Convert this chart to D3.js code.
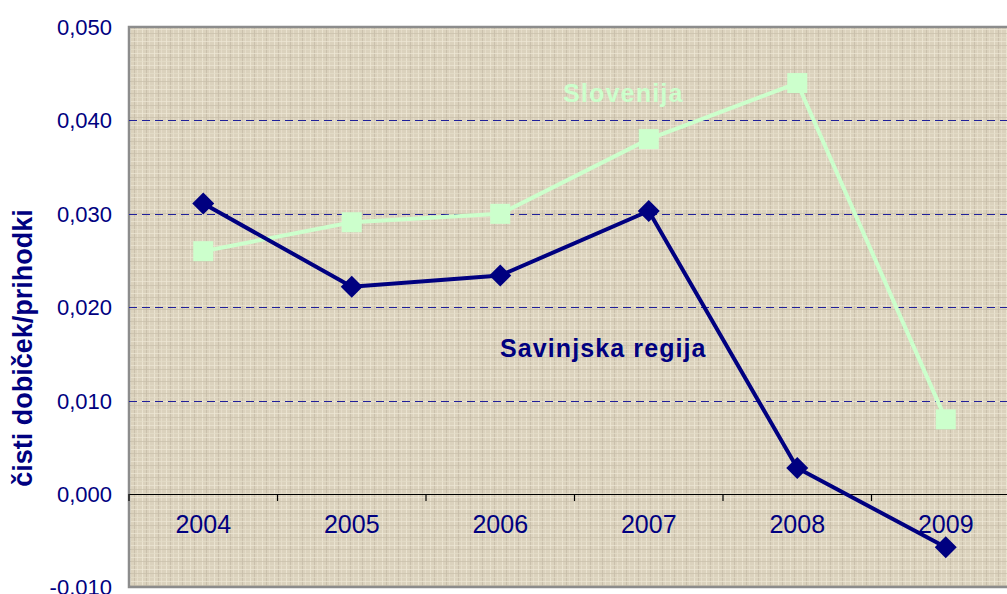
<!DOCTYPE html>
<html>
<head>
<meta charset="utf-8">
<script src="https://cdn.jsdelivr.net/npm/d3@7"></script>
<style>
  body { margin: 0; background: #fff; }
  svg { display: block; font-family: "Liberation Sans", Arial, sans-serif; }
</style>
</head>
<body>
<div id="chart"></div>
<script>
// chart values
const years = ["2004", "2005", "2006", "2007", "2008", "2009"];
const savinjska = [0.0311, 0.0222, 0.0234, 0.0303, 0.0028, -0.0057];
const slovenija = [0.0260, 0.0291, 0.0300, 0.0380, 0.0440, 0.0080];
const yTicks = [-0.010, 0.000, 0.010, 0.020, 0.030, 0.040, 0.050];

const W = 1007, H = 594;
const margin = { top: 27, right: -13, bottom: 7, left: 129 };
const width = W - margin.left - margin.right,
      height = H - margin.top - margin.bottom;

const svg = d3.select("#chart").append("svg")
    .attr("width", W)
    .attr("height", H);

// woven canvas texture for the plot area
const defs = svg.append("defs");
const pat = defs.append("pattern")
    .attr("id", "canvas")
    .attr("patternUnits", "userSpaceOnUse")
    .attr("width", 12).attr("height", 12);
pat.append("rect").attr("width", 12).attr("height", 12).attr("fill", "#dbd2bd");
[[1, "#eee7d5"], [5, "#c6bca8"], [8, "#e7dfcc"]].forEach(function(s) {
    pat.append("rect").attr("x", s[0]).attr("y", 0).attr("width", 1).attr("height", 12)
        .attr("fill", s[1]).attr("opacity", 0.8);
});
[[2, "#efe8d6"], [6, "#c9bfab"], [10, "#e5ddca"]].forEach(function(s) {
    pat.append("rect").attr("x", 0).attr("y", s[0]).attr("width", 12).attr("height", 1)
        .attr("fill", s[1]).attr("opacity", 0.7);
});

const g = svg.append("g")
    .attr("transform", "translate(" + margin.left + "," + margin.top + ")");

const x = d3.scaleBand().domain(years).range([0, width]);
const y = d3.scaleLinear().domain([-0.010, 0.050]).range([height + 0.5, 0]);

g.append("rect")
    .attr("width", width).attr("height", height)
    .attr("fill", "url(#canvas)")
    .attr("stroke", "#8c8c8c").attr("stroke-width", 2.5);

// dashed gridlines
g.selectAll(".grid")
    .data(yTicks.filter(d => d > 0 && d < 0.05))
  .enter().append("line")
    .attr("x1", 0).attr("x2", width)
    .attr("y1", d => Math.round(y(d)) + 0.5)
    .attr("y2", d => Math.round(y(d)) + 0.5)
    .attr("stroke", "#20209a")
    .attr("stroke-width", 1)
    .attr("shape-rendering", "crispEdges")
    .attr("stroke-dasharray", "8,5");

// y axis labels
const fmt = d => d3.format(".3f")(d).replace(".", ",").replace("−", "-");
g.selectAll(".ylab")
    .data(yTicks)
  .enter().append("text")
    .attr("x", -17)
    .attr("y", d => y(d))
    .attr("dy", "0.36em")
    .attr("text-anchor", "end")
    .attr("fill", "#000080")
    .style("font-size", "22px")
    .text(fmt);

// zero axis with category ticks
const xAxis = g.append("g")
    .attr("transform", "translate(0," + Math.round(y(0)) + ")")
    .call(d3.axisBottom(x).tickSize(0).tickFormat(""));
xAxis.select(".domain").attr("stroke", "#000").attr("stroke-width", 1.2);
xAxis.selectAll(".sep")
    .data(d3.range(years.length + 1))
  .enter().append("line")
    .attr("x1", i => i * x.step()).attr("x2", i => i * x.step())
    .attr("y1", 0).attr("y2", 7)
    .attr("stroke", "#000").attr("stroke-width", 1.2);

// year labels
g.selectAll(".xlab")
    .data(years)
  .enter().append("text")
    .attr("x", d => x(d) + x.bandwidth() / 2)
    .attr("y", y(0) + 39)
    .attr("text-anchor", "middle")
    .attr("fill", "#000080")
    .style("font-size", "25px")
    .text(d => d);

const cx = (d, i) => x(years[i]) + x.bandwidth() / 2;
const line = d3.line().x(cx).y(d => y(d));

// Slovenija series
g.append("path")
    .datum(slovenija)
    .attr("fill", "none")
    .attr("stroke", "#ccffcc")
    .attr("stroke-width", 4)
    .attr("d", line);
g.selectAll(".sq")
    .data(slovenija)
  .enter().append("rect")
    .attr("x", (d, i) => cx(d, i) - 10)
    .attr("y", d => y(d) - 10)
    .attr("width", 20).attr("height", 20)
    .attr("fill", "#ccffcc");

// Savinjska regija series
g.append("path")
    .datum(savinjska)
    .attr("fill", "none")
    .attr("stroke", "#000080")
    .attr("stroke-width", 4)
    .attr("d", line);
g.selectAll(".dm")
    .data(savinjska)
  .enter().append("path")
    .attr("transform", (d, i) => "translate(" + cx(d, i) + "," + y(d) + ")")
    .attr("d", "M0,-11L11,0L0,11L-11,0Z")
    .attr("fill", "#000080");

// series labels
g.append("text")
    .attr("x", 563 - margin.left)
    .attr("y", 102 - margin.top)
    .attr("fill", "#ccffcc")
    .style("font-size", "25px")
    .style("font-weight", "bold")
    .style("letter-spacing", "1.2px")
    .text("Slovenija");
g.append("text")
    .attr("x", 500 - margin.left)
    .attr("y", 357 - margin.top)
    .attr("fill", "#000080")
    .style("font-size", "25px")
    .style("font-weight", "bold")
    .style("letter-spacing", "1.1px")
    .text("Savinjska regija");

// y axis title
svg.append("text")
    .attr("transform", "translate(32,348) rotate(-90)")
    .attr("text-anchor", "middle")
    .attr("fill", "#000080")
    .style("font-size", "27px")
    .style("font-weight", "bold")
    .text("čisti dobiček/prihodki");
</script>
</body>
</html>
